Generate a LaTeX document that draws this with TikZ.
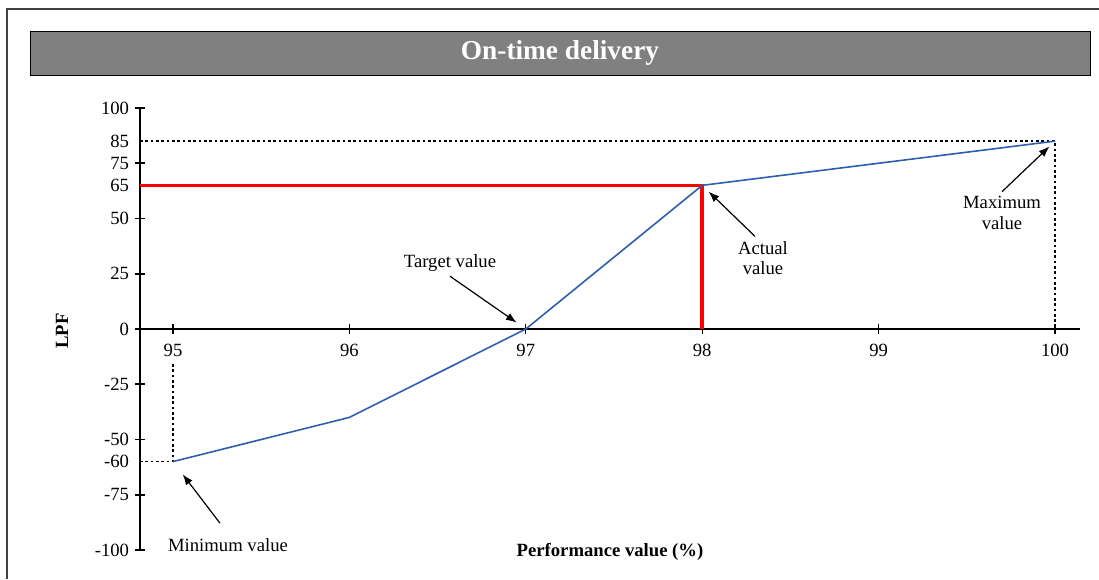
\documentclass[tikz,border=0pt]{standalone}
\usepackage{fontspec}
\setmainfont{Liberation Serif}
\usepackage{tikz}
\usetikzlibrary{arrows.meta}
\definecolor{lpfblue}{RGB}{47,95,170}

\begin{document}
\begin{tikzpicture}[x=0.75pt, y=0.75pt,
	font=\fontsize{14}{15.5}\selectfont,
	axis/.style={line width=1.4pt},
	guide/.style={line width=1pt, dash pattern=on 2pt off 2pt},
	lpfcurve/.style={line width=1.2pt, draw=lpfblue},
	actline/.style={line width=2.6pt, draw=red},
	callout/.style={-{Latex[length=8pt,width=6pt]}, line width=0.9pt}]
\useasboundingbox (0,0) rectangle (1099,579);
\draw[line width=1pt, black!75] (7,0) -- (7,570) -- (1099,570);
\node[draw, fill=black!50, text=white, minimum width=795pt, minimum height=33pt,
	font=\fontsize{20.5}{24}\selectfont\bfseries] (title) at (560,526) {On-time delivery};

% labels round the plot
\node[rotate=90, font=\fontsize{14}{15.5}\selectfont\bfseries] (ylab) at (62,248) {LPF};
\node[font=\fontsize{14}{15.5}\selectfont\bfseries] (xlab) at (610,27) {Performance value (\%)};

% data: x = performance - 95, y = LPF
\begin{scope}[shift={(129.75pt,187.5pt)}, x=132.3pt, y=1.6575pt]
\def\ax{-0.187}
\draw[axis] (\ax,-100) -- (\ax,100);
\draw[axis] (\ax,0) -- (5.142,0);
\foreach \l in {100,75,50,25,0,-25,-50,-75,-100}
	\draw[axis] (\ax-0.028,\l) -- (\ax+0.028,\l);
\foreach \l in {100,85,75,65,50,25,0,-25,-50,-60,-75,-100}
	\node[anchor=east, inner sep=1pt] at (-0.240,\l) {\l};
\foreach \v in {95,...,100}{
	\draw[line width=1pt] (\v-95,-2.3) -- (\v-95,2.3);
	\node at (\v-95,-9.5) {\v};
}

\coordinate (pmin) at (0,-60);
\coordinate (p96) at (1,-40);
\coordinate (ptgt) at (2,0);
\coordinate (pact) at (3,65);
\coordinate (pmax) at (5,85);

\draw[guide] (\ax,85) -- (pmax) -- (5,0);
\draw[guide] (\ax,-60) -- (pmin) -- (0,-15);
\draw[actline] (\ax,65) -- (pact) -- (3,0);
\draw[lpfcurve] (pmin) -- (p96) -- (ptgt) -- (pact) -- (pmax);
\end{scope}

% callouts
\node (tgt) at (450,316) {Target value};
\node[align=center] (act) at (763,321) {Actual\\value};
\node[align=center] (maxv) at (1002,366) {Maximum\\value};
\node (minv) at (228,34) {Minimum value};
\draw[callout, shorten >=8.4pt] (tgt.south) -- (ptgt);
\draw[callout, shorten >=6.8pt] ([xshift=-6pt]act.north) -- (pact);
\draw[callout, shorten >=5.8pt] (maxv.north) -- (pmax);
\draw[callout, shorten <=10pt, shorten >=12pt] (minv.north) -- (pmin);
\end{tikzpicture}
\end{document}
